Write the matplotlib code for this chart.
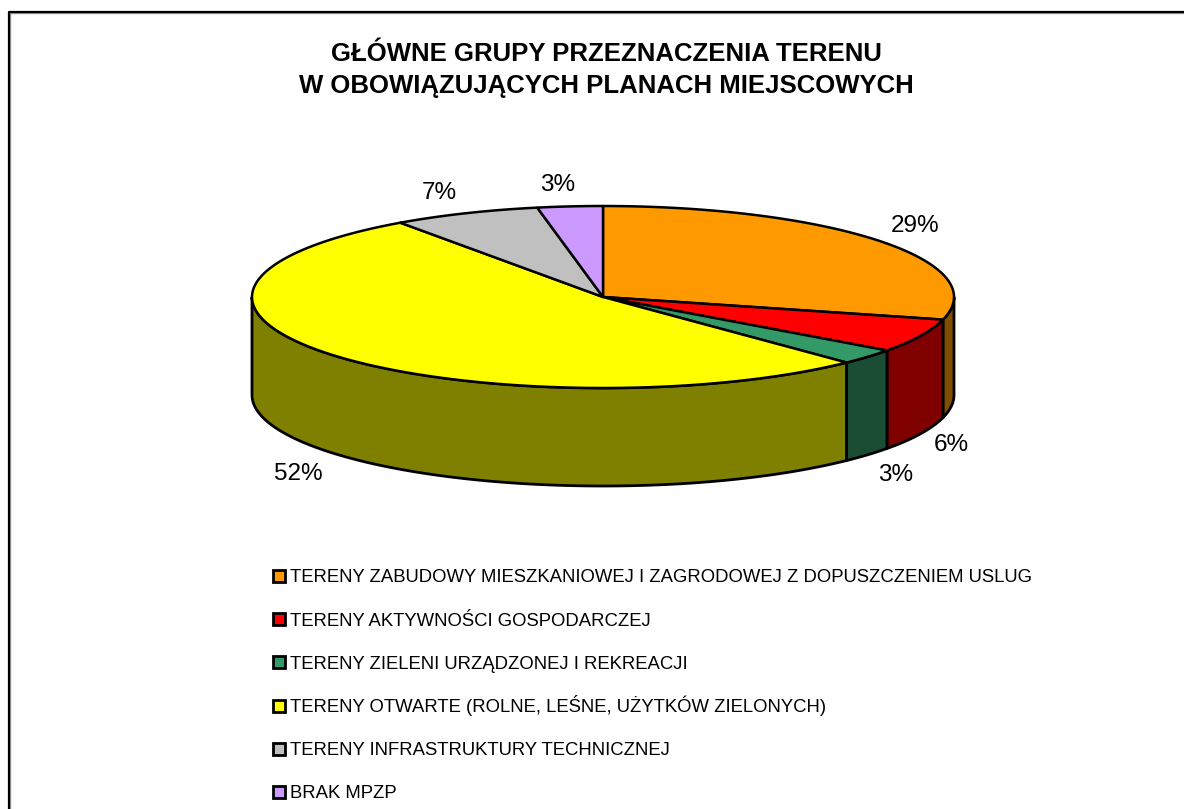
import numpy as np
import matplotlib
matplotlib.use('Agg')
import matplotlib.pyplot as plt

title = 'GŁÓWNE GRUPY PRZEZNACZENIA TERENU\nW OBOWIĄZUJĄCYCH PLANACH MIEJSCOWYCH'
categories = ['TERENY ZABUDOWY MIESZKANIOWEJ I ZAGRODOWEJ Z DOPUSZCZENIEM USLUG',
              'TERENY AKTYWNOŚCI GOSPODARCZEJ',
              'TERENY ZIELENI URZĄDZONEJ I REKREACJI',
              'TERENY OTWARTE (ROLNE, LEŚNE, UŻYTKÓW ZIELONYCH)',
              'TERENY INFRASTRUKTURY TECHNICZNEJ',
              'BRAK MPZP']
# unrounded shares, the labels show them rounded
values = [29, 6, 2.8, 52.4, 6.8, 3]
top_colors = ['#FF9900', '#FF0000', '#339966', '#FFFF00', '#C0C0C0', '#CC99FF']
side_colors = ['#804D00', '#800000', '#1A4D33', '#808000', '#606060', '#664D80']
label_pos = [(915, 226), (951, 445), (896, 475), (298, 474), (439, 193), (558, 185)]

plt.rcParams['font.family'] = ['Liberation Sans', 'DejaVu Sans']

CX, CY, RX, RY, DEPTH = 603, 297, 351, 91, 98


def rim(a0, a1, n=120):
    t = np.radians(np.linspace(a0, a1, n))
    return CX + RX * np.sin(t), CY - RY * np.cos(t)


fig = plt.figure(figsize=(11.84, 8.09), dpi=100)
ax = fig.add_axes([0, 0, 1, 1])
ax.set_xlim(0, 1184)
ax.set_ylim(809, 0)
ax.axis('off')

# frame of the chart, the right and lower edges are cut off by the image
ax.plot([10, 10, 1184], [809, 13, 13], color='#999999', lw=1, zorder=1)
ax.plot([8.5, 8.5, 1184], [809, 11.5, 11.5], color='black', lw=1.6, zorder=1)

ends = np.cumsum(values) * 3.6
starts = ends - np.array(values) * 3.6

# side wall, only the front half of the ellipse can be seen
for a0, a1, col in zip(starts, ends, side_colors):
    lo, hi = max(a0, 90), min(a1, 270)
    if lo >= hi:
        continue
    x, y = rim(lo, hi)
    px = np.concatenate([x, x[::-1]])
    py = np.concatenate([y, y[::-1] + DEPTH])
    ax.fill(px, py, facecolor=col, edgecolor='black', lw=2, joinstyle='round', zorder=2)

# top of the pie
for a0, a1, col in zip(starts, ends, top_colors):
    x, y = rim(a0, a1)
    px = np.concatenate([[CX], x])
    py = np.concatenate([[CY], y])
    ax.fill(px, py, facecolor=col, edgecolor='black', lw=1.8, joinstyle='round', zorder=3)

for v, (lx, ly) in zip(values, label_pos):
    ax.text(lx, ly, '%.0f%%' % v, fontsize=17.5, ha='center', va='center', zorder=4)

ax.text(606, 70, title, fontsize=18.5, fontweight='bold', ha='center', va='center',
        linespacing=1.42, zorder=4)

for i, (name, col) in enumerate(zip(categories, top_colors)):
    ly = 576 + i * 43.2
    ax.add_patch(plt.Rectangle((273, ly - 6), 12, 12, facecolor=col, edgecolor='black',
                               lw=2, zorder=4))
    ax.text(290.5, ly + 6.5, name, fontsize=13.37, ha='left', va='baseline', zorder=4)

fig.savefig('out.png', dpi=100)
plt.close(fig)
